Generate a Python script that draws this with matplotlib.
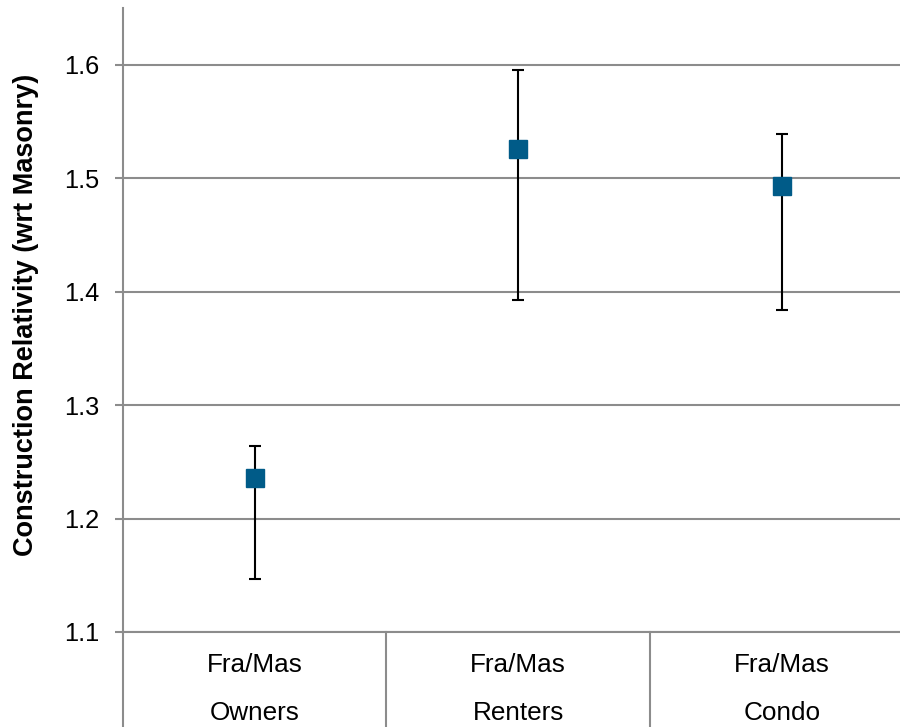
import matplotlib.pyplot as plt
import matplotlib.transforms as mtransforms

plt.rcParams['font.family'] = ['Liberation Sans', 'DejaVu Sans']

groups = ["Owners", "Renters", "Condo"]
top_label = "Fra/Mas"
relativity = [1.236, 1.526, 1.493]
upper = [1.264, 1.595, 1.539]
lower = [1.147, 1.393, 1.384]
yticks = [1.1, 1.2, 1.3, 1.4, 1.5, 1.6]

grey = "#8c8c8c"
blue = "#005b88"

fig = plt.figure(figsize=(9, 7.27), dpi=100)
ax = fig.add_axes([123 / 900, 95 / 727, (913.5 - 123) / 900, (719 - 95) / 727])

x = list(range(len(groups)))
err_lo = [r - l for r, l in zip(relativity, lower)]
err_hi = [u - r for r, u in zip(relativity, upper)]

ax.errorbar(x, relativity, yerr=[err_lo, err_hi], fmt="none",
            ecolor="black", elinewidth=1.5, capsize=4.3, capthick=1.5, zorder=3)
ax.plot(x, relativity, linestyle="none", marker="s", markersize=12.5,
        color=blue, zorder=4)

ax.set_xlim(-0.5, len(groups) - 0.5)
ax.set_ylim(1.1, 1.65)
ax.set_yticks(yticks)
ax.set_yticklabels([f"{t:.1f}" for t in yticks])
ax.yaxis.grid(True, color=grey, linewidth=1.5)
ax.set_axisbelow(True)

for s in ["top", "right"]:
    ax.spines[s].set_visible(False)
for s in ["left", "bottom"]:
    ax.spines[s].set_color(grey)
    ax.spines[s].set_linewidth(1.5)

ax.tick_params(axis="y", length=6, width=1.5, color=grey, pad=11,
               labelsize=18.3, labelcolor="black")
ax.set_xticks([])

# category separators below the axis
trans = mtransforms.blended_transform_factory(ax.transData, ax.transAxes)
below = -95 / 624
for xs in [-0.5, 0.5, 1.5]:
    ax.plot([xs, xs], [0, below], transform=trans, color=grey,
            linewidth=1.5, clip_on=False)

for xi, g in zip(x, groups):
    ax.text(xi, -33 / 624, top_label, transform=trans, ha="center",
            va="center", fontsize=18.8)
    ax.text(xi, -81 / 624, g, transform=trans, ha="center",
            va="center", fontsize=18.8)

fig.text(26 / 900, 1 - 315 / 727, "Construction Relativity (wrt Masonry)",
         rotation=90, ha="center", va="center", fontsize=19.5,
         fontweight="bold")

fig.savefig("out.png", dpi=100)
